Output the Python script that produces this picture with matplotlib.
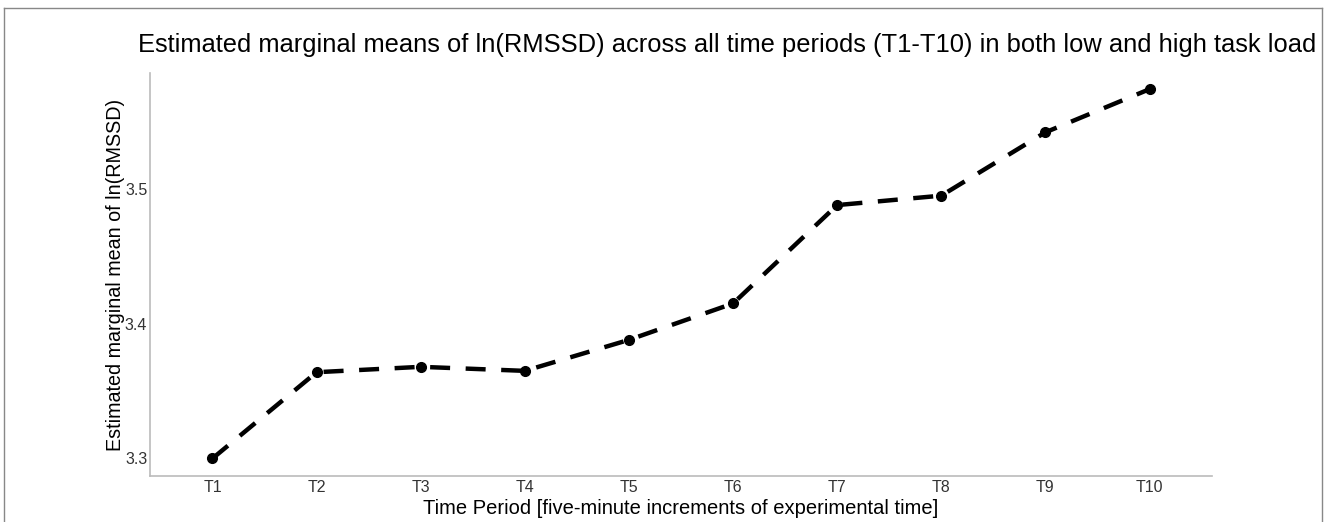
import matplotlib
matplotlib.use("Agg")
import matplotlib.pyplot as plt
from matplotlib.lines import Line2D

periods = ["T1", "T2", "T3", "T4", "T5", "T6", "T7", "T8", "T9", "T10"]
emm = [3.300, 3.364, 3.368, 3.365, 3.388, 3.415, 3.488, 3.495, 3.542, 3.574]
yticks = [3.3, 3.4, 3.5]

plt.rcParams['font.family'] = ['Liberation Sans', 'DejaVu Sans']

W, H = 1326, 522
fig = plt.figure(figsize=(W / 100, H / 100), dpi=100)
ax = fig.add_axes([150 / W, 1 - 476 / H, (1212 - 150) / W, (476 - 73) / H])

x = list(range(1, len(periods) + 1))
ax.plot(x, emm, color='black', linestyle=(0, (4.5, 3.5)), linewidth=3.2,
        marker='o', markersize=7, dash_capstyle='butt')

ax.set_xlim(0.4, 10.6)
ax.set_ylim(3.287, 3.586)
ax.set_xticks(x)
ax.set_xticklabels(periods)
ax.set_yticks(yticks)
ax.set_yticklabels([f"{v:.1f}" for v in yticks])
ax.tick_params(axis='both', length=0, labelsize=11.5, colors='#333333', pad=3)
ax.tick_params(axis='y', pad=2)
for s in ['top', 'right']:
    ax.spines[s].set_visible(False)
for s in ['left', 'bottom']:
    ax.spines[s].set_color('#bbbbbb')
    ax.spines[s].set_linewidth(1.2)

ax.set_xlabel("Time Period [five-minute increments of experimental time]", fontsize=14.5, labelpad=3)
ax.set_ylabel("Estimated marginal mean of ln(RMSSD)", fontsize=14.2, labelpad=0)

fig.text(138 / W, 1 - 45 / H,
         "Estimated marginal means of ln(RMSSD) across all time periods (T1-T10) in both low and high task load",
         fontsize=18.4, ha='left', va='center')

# figure border
bc = '#888888'
fig.add_artist(Line2D([4 / W, 4 / W], [0, 1 - 8 / H], transform=fig.transFigure, color=bc, lw=1))
fig.add_artist(Line2D([4 / W, 1322 / W], [1 - 8 / H, 1 - 8 / H], transform=fig.transFigure, color=bc, lw=1))
fig.add_artist(Line2D([1322 / W, 1322 / W], [0, 1 - 8 / H], transform=fig.transFigure, color=bc, lw=1))

fig.savefig("out.png", dpi=100)
